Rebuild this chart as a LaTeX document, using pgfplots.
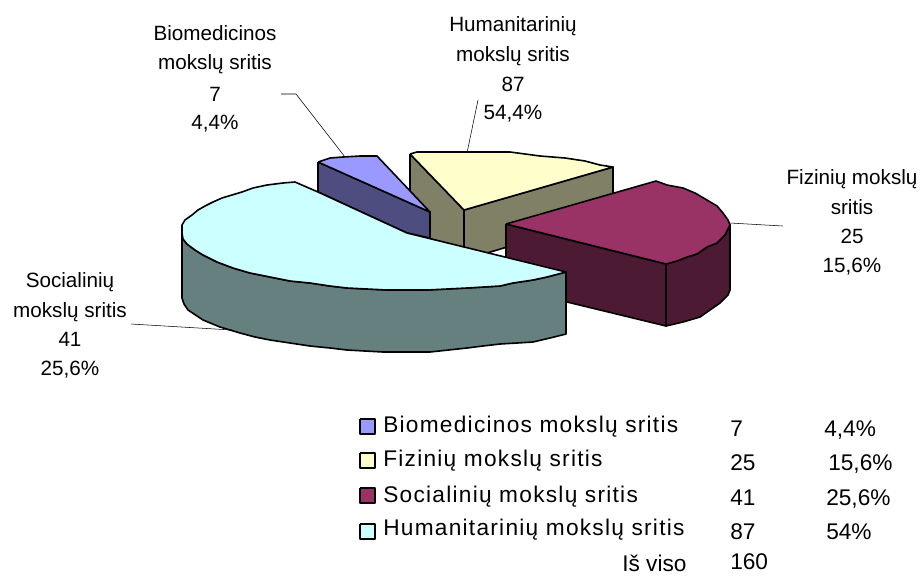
\documentclass[border=0pt]{standalone}
\usepackage{fontspec}
\setmainfont{Liberation Sans}
\usepackage{pgfplots}
\pgfplotsset{compat=1.18}
\definecolor{bluetop}{HTML}{9999FF}
\definecolor{blueside}{HTML}{4D4D80}
\definecolor{yelltop}{HTML}{FFFFCC}
\definecolor{yellside}{HTML}{808066}
\definecolor{martop}{HTML}{993366}
\definecolor{marside}{HTML}{4D1A33}
\definecolor{cyantop}{HTML}{CCFFFF}
\definecolor{cyanside}{HTML}{668080}
\newcommand{\lab}[3]{\node[anchor=base,inner sep=0pt,font=\fontsize{15.5pt}{18pt}\selectfont] at (axis cs:#1,#2) {#3};}
\newcommand{\leg}[3]{\node[anchor=base west,inner sep=0pt,font=\fontsize{17pt}{20pt}\selectfont] at (axis cs:#1,#2) {#3};}
\newcommand{\legs}[3]{\node[anchor=base west,inner sep=0pt,font=\fontsize{17pt}{20pt}\selectfont\addfontfeature{LetterSpace=5.6}] at (axis cs:#1,#2) {#3};}
\begin{document}
\begin{tikzpicture}
\begin{axis}[
  scale only axis, width=692.25pt, height=432pt,
  xmin=0, xmax=923, ymin=0, ymax=576, y dir=reverse,
  hide axis, clip=false,
  every axis plot/.append style={line join=round, mark=none},
]
\path (axis cs:0,0) rectangle (axis cs:923,576);

%% yellow slice
\addplot[fill=yellside, draw=black, line width=1.2pt] coordinates {(410,154)(464,210)(464,250)(410,232)(410,154)};
\addplot[fill=yellside, draw=black, line width=1.2pt] coordinates {(464,210)(613,167)(613,215)(464,260)(464,210)};
\addplot[fill=yelltop, draw=black, line width=1.2pt] coordinates {(410,154)(417,152)(470,152)(510,152)(525,154)(540,156)(565,158)(585,161)(600,165)(613,167)(464,210)(410,154)};

%% blue slice
\addplot[fill=blueside, draw=black, line width=1.2pt] coordinates {(318,162)(430,212)(430,238)(407,233)(318,192)(318,162)};
\addplot[fill=bluetop, draw=black, line width=1.2pt] coordinates {(318,162)(330,158)(343,157)(360,156)(377,156)(430,212)(318,162)};

%% maroon slice
\addplot[fill=marside, draw=black, line width=1.2pt] coordinates {(506,224)(666,264)(666,326)(567,302)(506,287)(506,224)};
\addplot[fill=marside, draw=black, line width=1.2pt] coordinates {(666,264)(677,261)(687,257)(697,254)(707,247)(717,243)(725,235)(730,225)(730,290)(728,295)(720,303)(710,310)(700,317)(683,322)(666,326)(666,264)};
\addplot[fill=martop, draw=black, line width=1.2pt] coordinates {(506,224)(656,181)(667,185)(683,188)(695,193)(707,200)(717,206)(723,213)(728,220)(730,225)(725,235)(717,243)(707,247)(697,254)(687,257)(677,261)(666,264)(506,224)};

%% cyan slice
\addplot[fill=cyanside, draw=black, line width=1.2pt] coordinates {(182,233)(183,239)(187,244)(195,250)(203,255)(217,262)(233,268)(250,273)(270,277)(290,281)(310,283)(330,286)(347,288)(367,289)(387,290)(427,290)(467,288)(500,286)(513,283)(533,280)(547,277)(566,272)(566,334)(550,338)(533,342)(517,343)(500,344)(483,346)(467,348)(430,352)(383,352)(347,350)(330,348)(310,346)(290,343)(270,340)(255,337)(240,333)(220,327)(203,320)(197,316)(188,310)(184,304)(182,298)(182,233)};
\addplot[fill=cyantop, draw=black, line width=1.2pt] coordinates {(295,182)(318,192)(407,233)(460,246)(566,272)(547,277)(533,280)(513,283)(500,286)(467,288)(427,290)(387,290)(367,289)(347,288)(330,286)(310,283)(290,281)(270,277)(250,273)(233,268)(217,262)(203,255)(195,250)(187,244)(183,239)(182,233)(182,225)(185,220)(192,215)(198,210)(205,206)(213,202)(222,198)(232,195)(242,192)(253,188)(267,185)(283,183)(295,182)};

%% leader lines
\addplot[black, line width=0.4pt] coordinates {(281,94)(296,94)(345,157)};
\addplot[black, line width=0.4pt] coordinates {(478,100)(467,153)};
\addplot[black, line width=0.4pt] coordinates {(730,223)(783,226)};
\addplot[black, line width=0.4pt] coordinates {(131,324)(232,330)};

%% legend swatches
\addplot[fill=bluetop, draw=black, line width=1pt] coordinates {(360,419)(375,419)(375,434)(360,434)(360,419)};
\addplot[fill=yelltop, draw=black, line width=1pt] coordinates {(360,453)(375,453)(375,468)(360,468)(360,453)};
\addplot[fill=martop, draw=black, line width=1pt] coordinates {(360,488)(375,488)(375,503)(360,503)(360,488)};
\addplot[fill=cyantop, draw=black, line width=1pt] coordinates {(360,524)(375,524)(375,539)(360,539)(360,524)};

%% slice labels
\lab{215}{40}{Biomedicinos}
\lab{215}{69}{mokslų sritis}
\lab{215}{101}{7}
\lab{215}{129}{4,4\%}
\lab{513}{31}{Humanitarinių}
\lab{513}{61}{mokslų sritis}
\lab{513}{91}{87}
\lab{513}{119}{54,4\%}
\lab{852}{184}{Fizinių mokslų}
\lab{852}{214}{sritis}
\lab{852}{243}{25}
\lab{852}{272}{15,6\%}
\lab{70}{287}{Socialinių}
\lab{70}{317}{mokslų sritis}
\lab{70}{346}{41}
\lab{70}{375}{25,6\%}

%% legend table
\legs{383}{432}{Biomedicinos mokslų sritis}
\legs{383}{466}{Fizinių mokslų sritis}
\legs{383}{502}{Socialinių mokslų sritis}
\legs{383}{535}{Humanitarinių mokslų sritis}
\leg{622}{571}{Iš viso}
\leg{730}{436}{7}
\leg{730}{470}{25}
\leg{730}{505}{41}
\leg{730}{539}{87}
\leg{730}{569}{160}
\leg{824}{436}{4,4\%}
\leg{828}{470}{15,6\%}
\leg{826}{505}{25,6\%}
\leg{826}{539}{54\%}
\end{axis}
\end{tikzpicture}
\end{document}
